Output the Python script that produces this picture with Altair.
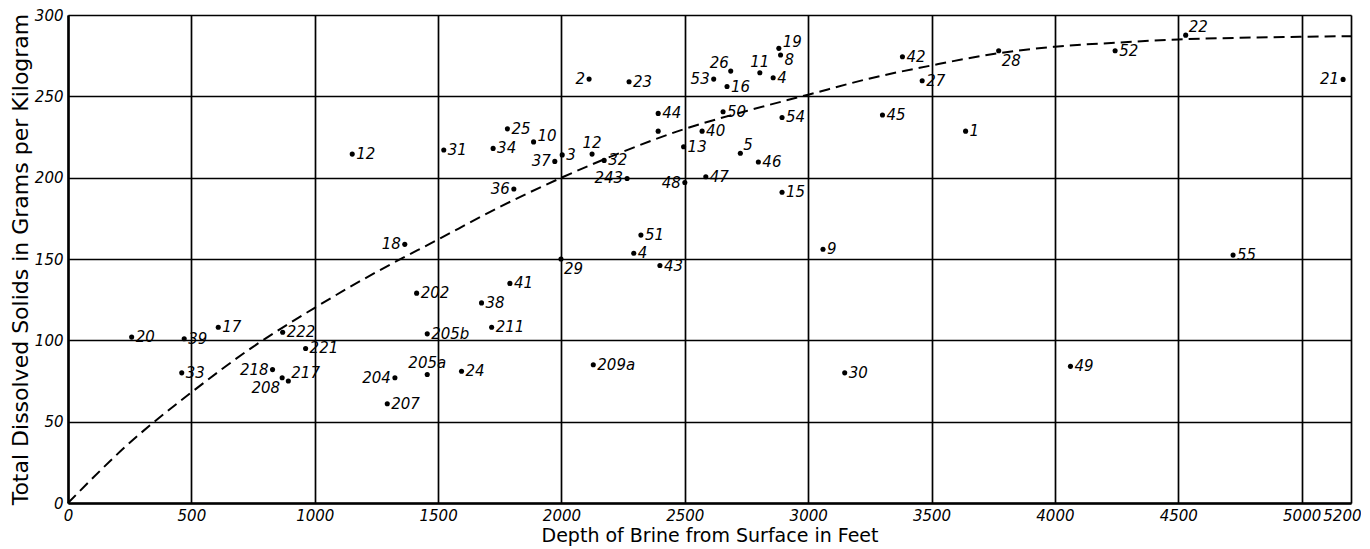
import altair as alt
import pandas as pd

# ---- data ----
labels = ["20", "39", "17", "222", "221", "33", "218", "208", "217", "204",
          "207", "202", "205b", "205a", "24", "38", "211", "41", "209a", "30",
          "49", "18", "12", "31", "34", "25", "10", "37", "3", "12",
          "32", "36", "243", "48", "47", "15", "13", "40", "", "44",
          "50", "54", "5", "46", "2", "23", "53", "26", "16", "11",
          "4", "19", "8", "51", "4", "43", "29", "9", "42", "27",
          "45", "1", "28", "52", "22", "21", "55"]
depth = [258, 471, 609, 870, 963, 461, 829, 868, 893, 1325,
         1294, 1413, 1456, 1456, 1595, 1676, 1717, 1791, 2129, 3148,
         4063, 1365, 1152, 1523, 1723, 1781, 1887, 1973, 2003, 2124,
         2173, 1807, 2266, 2500, 2585, 2894, 2495, 2570, 2392, 2392,
         2655, 2894, 2725, 2798, 2112, 2274, 2617, 2686, 2671, 2804,
         2858, 2881, 2888, 2322, 2293, 2399, 1998, 3060, 3382, 3462,
         3301, 3638, 3772, 4244, 4530, 5168, 4722]
solids = [102, 101, 108, 105, 95, 80, 82, 77, 75, 77,
          61, 129, 104, 79, 81, 123, 108, 135, 85, 80,
          84, 159, 214.5, 217, 218, 230, 222, 210, 214, 214.5,
          210.6, 193, 199.5, 197, 200.6, 191, 219, 228.6, 228.6, 239.5,
          240.5, 237, 215, 209.6, 260.6, 259, 260.6, 265.5, 256, 264.5,
          261.4, 279.5, 275.4, 164.7, 153.5, 146, 150, 156, 274.3, 259.6,
          238.5, 228.6, 278, 278, 287.6, 260.4, 152.4]
# label side relative to its dot: r=right, l=left, a=above, al/ar=above-left/right,
# bl/br=below-left/right, ru/rd=right and slightly up/down
placement = ["r", "r", "r", "r", "r", "r", "l", "bl", "ar", "l",
             "r", "r", "r", "a", "r", "r", "r", "r", "r", "r",
             "r", "l", "r", "r", "r", "r", "ru", "l", "r", "a",
             "r", "l", "l", "l", "r", "r", "r", "r", "r", "r",
             "r", "r", "ar", "r", "l", "r", "l", "al", "r", "a",
             "r", "ru", "rd", "r", "r", "r", "br", "r", "r", "r",
             "r", "r", "br", "r", "ar", "l", "r"]

curve_depth = [0, 250, 500, 750, 1000, 1250, 1500, 1750, 2000, 2250, 2500,
               2750, 3000, 3250, 3500, 3750, 4000, 4250, 4500, 4750, 5000, 5200]
curve_solids = [0, 37, 68, 96, 120, 142, 162, 182, 200, 216, 230,
                241, 251, 261, 269, 276, 280.5, 283, 285, 286, 286.6, 287]

x_ticks = [0, 500, 1000, 1500, 2000, 2500, 3000, 3500, 4000, 4500, 5000, 5200]
y_ticks = [0, 50, 100, 150, 200, 250, 300]

pts = pd.DataFrame({"label": labels, "depth": depth, "solids": solids, "pos": placement})
crv = pd.DataFrame({"depth": curve_depth, "solids": curve_solids})

FONT = "DejaVu Sans"

xs = alt.Scale(domain=[0, 5200], nice=False, zero=False)
ys = alt.Scale(domain=[0, 300], nice=False)

common_axis = dict(
    grid=True, gridColor="black", gridWidth=1.7, gridOpacity=1,
    domain=True, domainColor="black", domainWidth=2.5, ticks=False,
    labelFont=FONT, labelFontSize=15, labelFontStyle="italic", labelColor="black",
    labelOverlap=False, labelFlush=False, format="d",
    titleFont=FONT, titleFontWeight="normal", titleColor="black",
)
last_x = x_ticks[-1]
x_enc = alt.X("depth:Q", scale=xs, axis=alt.Axis(
    values=x_ticks, title="Depth of Brine from Surface in Feet",
    labelAlign={"condition": {"test": f"datum.value == {last_x}", "value": "right"}, "value": "center"},
    labelOffset={"condition": {"test": f"datum.value == {last_x}", "value": 10}, "value": 0},
    labelPadding=5, titlePadding=3, titleFontSize=19, **common_axis))
y_enc = alt.Y("solids:Q", scale=ys, axis=alt.Axis(
    values=y_ticks, title="Total Dissolved Solids in Grams per Kilogram",
    labelPadding=5, titlePadding=2, titleFontSize=22, **common_axis))

base = alt.Chart(pts)
dots = base.mark_circle(color="black", opacity=1, size=26).encode(x=x_enc, y=y_enc)

curve = alt.Chart(crv).mark_line(
    color="black", strokeWidth=2, strokeDash=[11, 6], interpolate="monotone"
).encode(x=alt.X("depth:Q", scale=xs), y=alt.Y("solids:Q", scale=ys))

offsets = {
    "r": dict(align="left", dx=4, dy=0),
    "ru": dict(align="left", dx=4, dy=-6),
    "rd": dict(align="left", dx=4, dy=5),
    "l": dict(align="right", dx=-4, dy=0),
    "a": dict(align="center", dx=0, dy=-11),
    "al": dict(align="right", dx=-2, dy=-8),
    "ar": dict(align="left", dx=3, dy=-8),
    "bl": dict(align="right", dx=-2, dy=10),
    "br": dict(align="left", dx=3, dy=10),
}
texts = []
for code, o in offsets.items():
    texts.append(
        base.transform_filter(alt.datum.pos == code).mark_text(
            font=FONT, fontSize=15, fontStyle="italic", color="black",
            baseline="middle", **o
        ).encode(x=alt.X("depth:Q", scale=xs), y=alt.Y("solids:Q", scale=ys), text="label:N")
    )

chart = alt.layer(curve, dots, *texts).properties(
    width=1283, height=488,
    autosize="none",
    padding={"left": 60, "top": 7, "right": 10, "bottom": 46},
).configure_view(stroke="black", strokeWidth=2.5).configure(background="white")

chart.save("out.html", embed_options={"renderer": "svg", "actions": False})
